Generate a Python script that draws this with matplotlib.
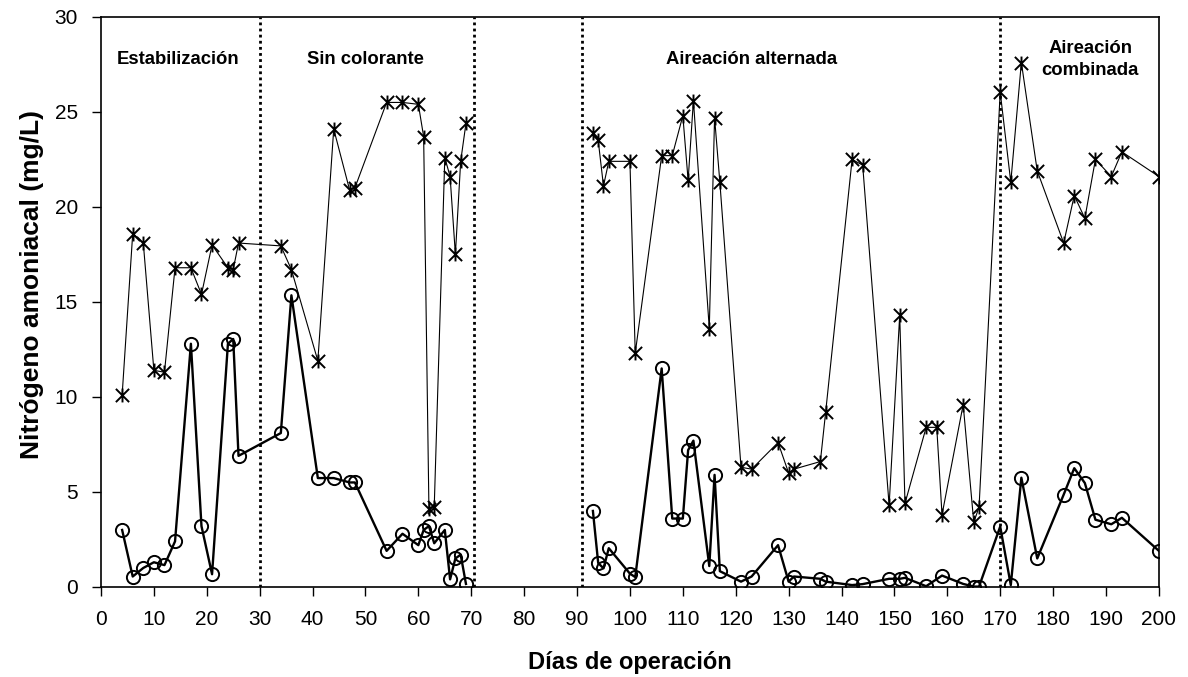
import numpy as np
import matplotlib
matplotlib.use("Agg")
import matplotlib.pyplot as plt
from matplotlib.path import Path

# --- data ---
# phase 1 (before the gap) and phase 2 (after the gap)
star_days_1 = [4, 6, 8, 10, 12, 14, 17, 19, 21, 24, 25, 26, 34, 36, 41, 44, 47, 48, 54, 57,
               60, 61, 62, 63, 65, 66, 67, 68, 69]
star_vals_1 = [10.1, 18.6, 18.1, 11.4, 11.3, 16.8, 16.8, 15.4, 18.0, 16.8, 16.7, 18.1, 17.95,
               16.7, 11.9, 24.1, 20.9, 21.0, 25.5, 25.5, 25.4, 23.7, 4.1, 4.2, 22.6, 21.6,
               17.5, 22.4, 24.4]
star_days_2 = [93, 94, 95, 96, 100, 101, 106, 108, 110, 111, 112, 115, 116, 117, 121, 123,
               128, 130, 131, 136, 137, 142, 144, 149, 151, 152, 156, 158, 159, 163, 165, 166,
               170, 172, 174, 177, 182, 184, 186, 188, 191, 193, 200]
star_vals_2 = [23.9, 23.5, 21.1, 22.4, 22.4, 12.3, 22.7, 22.7, 24.8, 21.4, 25.6, 13.6, 24.7,
               21.3, 6.3, 6.2, 7.6, 6.0, 6.2, 6.6, 9.2, 22.5, 22.2, 4.3, 14.3, 4.4, 8.4, 8.4,
               3.8, 9.6, 3.4, 4.2, 26.05, 21.3, 27.6, 21.9, 18.1, 20.6, 19.4, 22.5, 21.6,
               22.9, 21.6]

circ_days_1 = star_days_1
circ_vals_1 = [3.0, 0.55, 1.0, 1.3, 1.15, 2.4, 12.8, 3.2, 0.67, 12.8, 13.05, 6.9, 8.1, 15.35,
               5.73, 5.73, 5.5, 5.5, 1.9, 2.8, 2.2, 3.0, 3.2, 2.3, 3.0, 0.4, 1.5, 1.7, 0.16]
circ_days_2 = [93, 94, 95, 96, 100, 101, 106, 108, 110, 111, 112, 115, 116, 117, 121, 123,
               128, 130, 131, 136, 137, 142, 144, 149, 151, 152, 156, 159, 163, 165, 166,
               170, 172, 174, 177, 182, 184, 186, 188, 191, 193, 200]
circ_vals_2 = [4.0, 1.26, 0.98, 2.04, 0.7, 0.52, 11.5, 3.6, 3.6, 7.2, 7.7, 1.1, 5.9, 0.83,
               0.28, 0.55, 2.2, 0.28, 0.55, 0.43, 0.28, 0.1, 0.15, 0.43, 0.43, 0.48, 0.04,
               0.6, 0.16, 0.02, 0.02, 3.18, 0.1, 5.75, 1.5, 4.86, 6.25, 5.47, 3.54, 3.3,
               3.64, 1.9]

phase_bounds = [30, 70.5, 91, 170]
phase_labels = ["Estabilización", "Sin colorante", "Aireación alternada", "Aireación\ncombinada"]
phase_label_x = [14.6, 50, 123, 187]

plt.rcParams['font.family'] = ['Liberation Sans', 'DejaVu Sans']

# excel-like star marker: an X with a vertical bar through it
star = Path([(-1, -1), (1, 1), (-1, 1), (1, -1), (0, -1.05), (0, 1.05)],
            [Path.MOVETO, Path.LINETO, Path.MOVETO, Path.LINETO, Path.MOVETO, Path.LINETO])

fig = plt.figure(figsize=(11.88, 6.77), dpi=100)
ax = fig.add_axes([0.085, 0.133, 0.8905, 0.842])

for d, v in [(star_days_1, star_vals_1), (star_days_2, star_vals_2)]:
    ax.plot(d, v, color='black', lw=0.8, marker=star, markersize=10,
            markeredgewidth=1.4, zorder=3)

for d, v in [(circ_days_1, circ_vals_1), (circ_days_2, circ_vals_2)]:
    ax.plot(d, v, color='black', lw=1.7, marker='o', markersize=9.5,
            markerfacecolor='none', markeredgewidth=1.4, zorder=4)

for b in phase_bounds:
    ax.axvline(b, color='black', ls=(0, (1, 1.2)), lw=2, zorder=2)

for x, lab in zip(phase_label_x, phase_labels):
    ax.text(x, 27.75, lab, ha='center', va='center', fontsize=13.3,
            fontweight='bold', linespacing=1.35)

ax.set_xlim(0, 200)
ax.set_ylim(0, 30)
ax.set_xticks(np.arange(0, 201, 10))
ax.set_yticks(np.arange(0, 31, 5))
ax.tick_params(direction='out', length=6.5, width=1, labelsize=15, pad=10)
for s in ax.spines.values():
    s.set_linewidth(1.2)

ax.set_xlabel("Días de operación", fontsize=17, fontweight='bold', labelpad=16)
ax.set_ylabel("Nitrógeno amoniacal (mg/L)", fontsize=19, fontweight='bold')
ax.yaxis.set_label_coords(-0.054, 0.53)

fig.savefig("out.png", dpi=100)
